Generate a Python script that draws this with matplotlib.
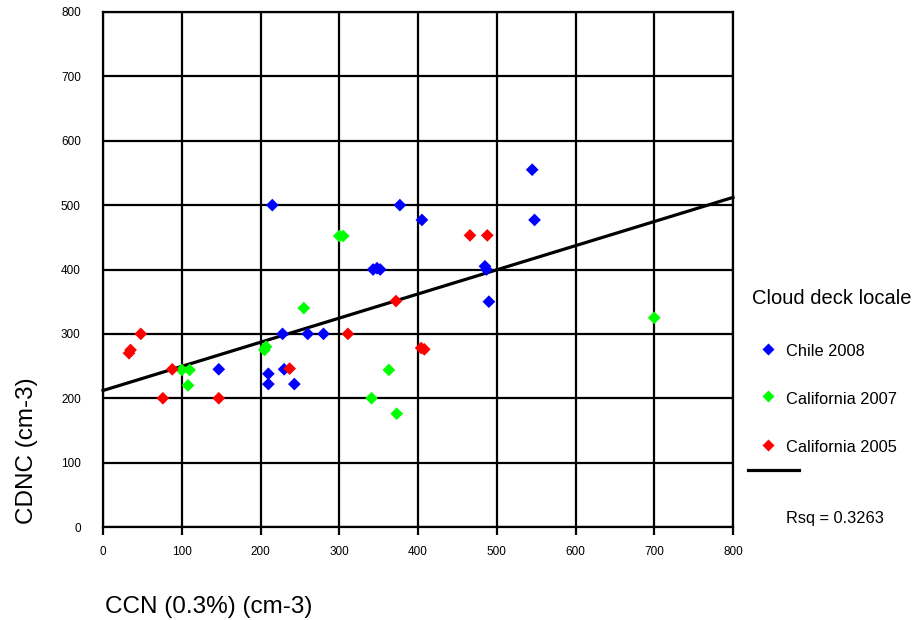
import matplotlib
matplotlib.use("Agg")
import matplotlib.pyplot as plt
from matplotlib.lines import Line2D
import numpy as np

plt.rcParams['font.family'] = ['Liberation Sans', 'DejaVu Sans']

# ---- data ----
chile_2008_x = [215, 147, 210, 210, 230, 243, 228, 260, 280, 343, 348, 352, 377, 405, 485, 487, 490, 545, 548]
chile_2008_y = [500, 245, 238, 222, 245, 222, 300, 300, 300, 400, 402, 400, 500, 477, 405, 400, 350, 555, 477]

cal_2007_x = [300, 305, 255, 205, 207, 100, 110, 108, 341, 363, 373, 700]
cal_2007_y = [452, 452, 340, 275, 280, 244, 244, 220, 200, 244, 176, 325]

cal_2005_x = [33, 35, 48, 88, 76, 147, 237, 311, 372, 404, 408, 466, 488]
cal_2005_y = [270, 275, 300, 245, 200, 200, 246, 300, 351, 278, 276, 453, 453]

fit_intercept = 212
fit_slope = 0.375
fit_x = [0, 800]
rsq_text = "Rsq = 0.3263"

series_names = ["Chile 2008", "California 2007", "California 2005"]
series_colors = ["#0000ff", "#00ff00", "#ff0000"]

x_ticks = [0, 100, 200, 300, 400, 500, 600, 700, 800]
y_ticks = [0, 100, 200, 300, 400, 500, 600, 700, 800]

# ---- figure ----
W, H = 924, 620
fig = plt.figure(figsize=(W / 100, H / 100), dpi=100)
ax = fig.add_axes([103 / W, 1 - 527 / H, (733 - 103) / W, (527 - 12) / H])

ax.set_xlim(0, 800)
ax.set_ylim(0, 800)
ax.set_xticks(x_ticks)
ax.set_yticks(y_ticks)
ax.set_xticklabels([str(t) for t in x_ticks], fontsize=8.5)
ax.set_yticklabels([str(t) for t in y_ticks], fontsize=8.5)
ax.tick_params(axis='x', direction='out', length=6, width=1.6, pad=8, color='black')
ax.tick_params(axis='y', length=0, pad=16)
ax.grid(True, color='black', linewidth=1.6)
ax.set_axisbelow(True)
for s in ax.spines.values():
    s.set_linewidth(1.6)
    s.set_color('black')

# fit line
fy = [fit_intercept + fit_slope * v for v in fit_x]
ax.plot(fit_x, fy, color='black', linewidth=2.3, zorder=3, clip_on=False)

# scatter
for xs, ys, c in [(chile_2008_x, chile_2008_y, series_colors[0]),
                  (cal_2007_x, cal_2007_y, series_colors[1]),
                  (cal_2005_x, cal_2005_y, series_colors[2])]:
    ax.scatter(xs, ys, marker='D', s=42, color=c, edgecolors='none', zorder=4)

# axis labels
fig.text(105 / W, 1 - 607 / H, "CCN (0.3%) (cm-3)", fontsize=17.5, ha='left', va='center')
fig.text(27 / W, 1 - 451 / H, "CDNC (cm-3)", fontsize=17.5, rotation=90, ha='center', va='center')

# legend (manual)
fig.text(752 / W, 1 - 299 / H, "Cloud deck locale", fontsize=14.5, ha='left', va='center')
leg_y = [349, 396, 445]
for name, c, yy in zip(series_names, series_colors, leg_y):
    fig.add_artist(Line2D([768 / W], [1 - yy / H], marker='D', markersize=6.5, color=c,
                          markeredgecolor='none', linestyle='none', transform=fig.transFigure))
    fig.text(786 / W, 1 - (yy + 3) / H, name, fontsize=11.8, ha='left', va='center')
fig.add_artist(Line2D([748 / W, 799 / W], [1 - 470 / H, 1 - 470 / H], color='black',
                      linewidth=2.3, transform=fig.transFigure))
fig.text(786 / W, 1 - 519 / H, rsq_text, fontsize=11.8, ha='left', va='center')

fig.savefig("out.png", dpi=100)
